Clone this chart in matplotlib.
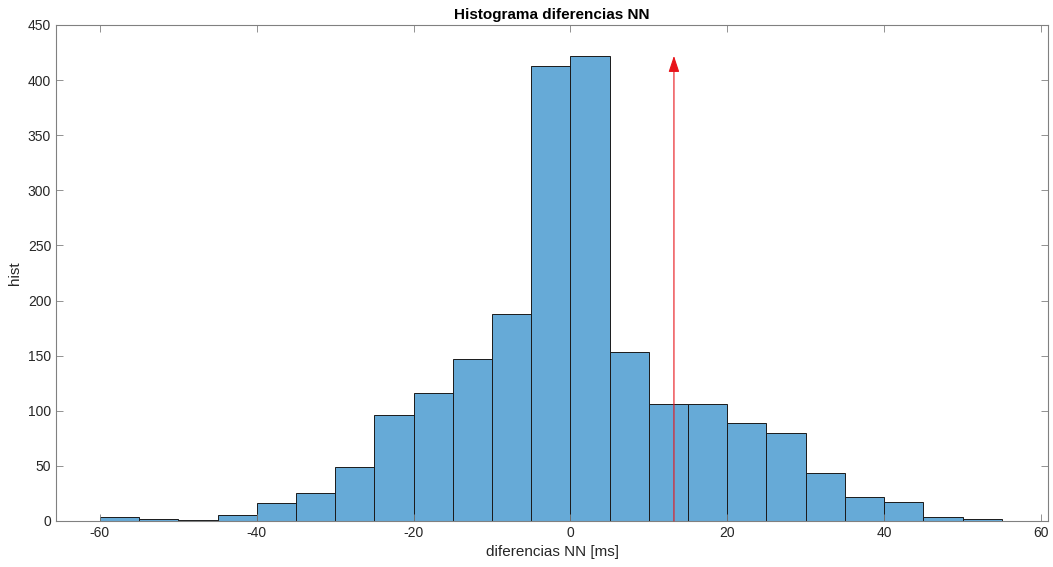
import matplotlib
matplotlib.use('Agg')
import matplotlib.pyplot as plt
import numpy as np

plt.rcParams['font.family'] = ['Liberation Sans', 'DejaVu Sans']
plt.rcParams['axes.unicode_minus'] = False

# histogram of NN differences, 5 ms bins starting at -60
bin_left = np.arange(-60, 55, 5)
counts = [4, 2, 1, 5, 16, 25, 49, 96, 116, 147, 188, 413, 422,
          153, 106, 106, 89, 80, 44, 22, 17, 4, 2]
arrow_x = 13.2
arrow_top = max(counts)

fig = plt.figure(figsize=(10.53, 5.67), dpi=100)
ax = fig.add_axes([56 / 1053, 1 - 521 / 567, (1048 - 56) / 1053, (521 - 25) / 567])

ax.bar(bin_left, counts, width=5, align='edge', color='#66aad7',
       edgecolor='#1a1a1a', linewidth=0.7)

# red arrow marking the value
ax.annotate('', xy=(arrow_x, arrow_top), xytext=(arrow_x, 0),
            arrowprops=dict(arrowstyle='-|>,head_width=0.3,head_length=0.9',
                            color='#e8141a', lw=0.8,
                            mutation_scale=11, shrinkA=0, shrinkB=0))

ax.set_xlim(-65.6, 60.9)
ax.set_ylim(0, 450)
ax.set_xticks(np.arange(-60, 61, 20))
ax.set_yticks(np.arange(0, 451, 50))

gray = '#262626'
for s in ax.spines.values():
    s.set_color('#808080')
    s.set_linewidth(0.8)
ax.tick_params(direction='in', top=True, right=True, length=5, width=0.6,
               colors='#808080', labelcolor=gray, labelsize=10)

ax.set_xlabel('diferencias NN [ms]', fontsize=11, color=gray)
ax.set_ylabel('hist', fontsize=11, color=gray)
ax.set_title('Histograma diferencias NN', fontsize=11, fontweight='bold', color='black', pad=4)

fig.savefig('out.png', dpi=100)
